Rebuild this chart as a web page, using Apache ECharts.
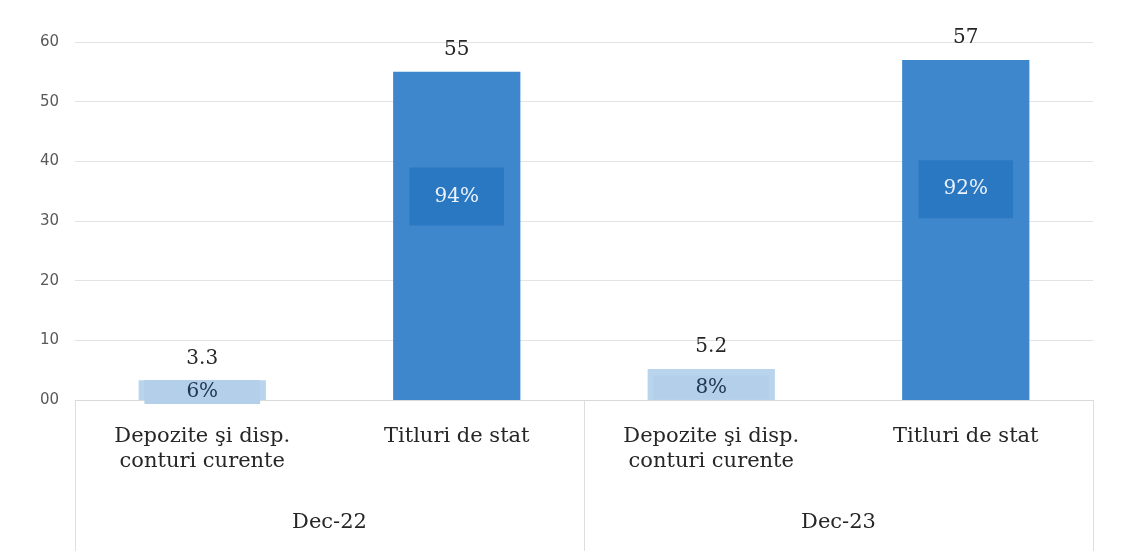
<!doctype html>
<html>
<head>
<meta charset="utf-8">
<title>Depozite si titluri de stat</title>
<script src="https://cdn.jsdelivr.net/npm/echarts@6/dist/echarts.min.js"></script>
<style>html,body,#app{margin:0;width:1121px;height:551px;background:#fff}</style>
</head>
<body>
<div id="app"></div>
<script>
// date
const categories = ["Depozite şi disp.\nconturi curente", "Titluri de stat", "Depozite şi disp.\nconturi curente", "Titluri de stat"];
const groups = ["Dec-22", "Dec-23"];
const values = [3.3, 55, 5.2, 57];
const shares = [6, 94, 8, 92];
const kinds = ["dep", "tit", "dep", "tit"]; // tipul barei: depozite / titluri
const yTicks = [0, 10, 20, 30, 40, 50, 60];

const serif = '"DejaVu Serif", "Liberation Serif", serif';
const colors = { dep: "#b9d4ed", tit: "#3f87cc" }; // culoarea barelor
const boxColors = { dep: "#b3cfea", tit: "#2b78c2" }; // fundal eticheta procent

const el = document.getElementById("app");
const chart = echarts.init(el, null, { renderer: "canvas" });

// bare cu valoarea deasupra
const mainData = values.map((v, i) => ({
  value: v,
  itemStyle: { color: colors[kinds[i]] }
}));

// serie suprapusa, transparenta, doar pentru procentul din interior
const shareData = values.map((v, i) => {
  const isTit = kinds[i] === "tit";
  return {
    value: v,
    label: {
      position: isTit ? ["50%", "38%"] : ["50%", "60%"],
      color: isTit ? "#eaf2fb" : "#1f3550",
      backgroundColor: boxColors[kinds[i]],
      padding: isTit ? [19, 25] : [2, 42]
    }
  };
});

chart.setOption({
  animation: false,
  backgroundColor: "#fff",
  grid: { left: 75, right: 28, top: 42, bottom: 151 },
  xAxis: [
    {
      type: "category",
      data: categories,
      axisLine: { show: true, lineStyle: { color: "#d9d9d9" } },
      axisTick: { show: false },
      axisLabel: {
        interval: 0,
        margin: 24,
        fontFamily: serif,
        fontSize: 21,
        lineHeight: 25,
        color: "#262626"
      }
    },
    {
      type: "category",
      data: groups,
      position: "bottom",
      axisLine: { show: false },
      axisTick: { show: true, length: 151, lineStyle: { color: "#dedede" } },
      axisLabel: {
        margin: 112,
        fontFamily: serif,
        fontSize: 21,
        color: "#262626"
      }
    }
  ],
  yAxis: {
    type: "value",
    min: yTicks[0],
    max: yTicks[yTicks.length - 1],
    interval: 10,
    axisLine: { show: false },
    axisTick: { show: false },
    splitLine: { lineStyle: { color: "#e3e3e3" } },
    axisLabel: {
      margin: 16,
      fontFamily: '"DejaVu Sans", sans-serif',
      fontSize: 15,
      color: "#595959",
      formatter: (v) => (v === 0 ? "00" : String(v))
    }
  },
  series: [
    {
      type: "bar",
      xAxisIndex: 0,
      barWidth: "50%",
      data: mainData,
      label: {
        show: true,
        position: "top",
        distance: 12,
        fontFamily: serif,
        fontSize: 20,
        color: "#262626"
      }
    },
    {
      type: "bar",
      xAxisIndex: 0,
      barWidth: "50%",
      barGap: "-100%",
      data: shareData,
      itemStyle: { color: "rgba(0,0,0,0)" },
      label: {
        show: true,
        align: "center",
        verticalAlign: "middle",
        fontFamily: serif,
        fontSize: 20,
        formatter: (p) => shares[p.dataIndex] + "%"
      }
    }
  ]
});
</script>
</body>
</html>
